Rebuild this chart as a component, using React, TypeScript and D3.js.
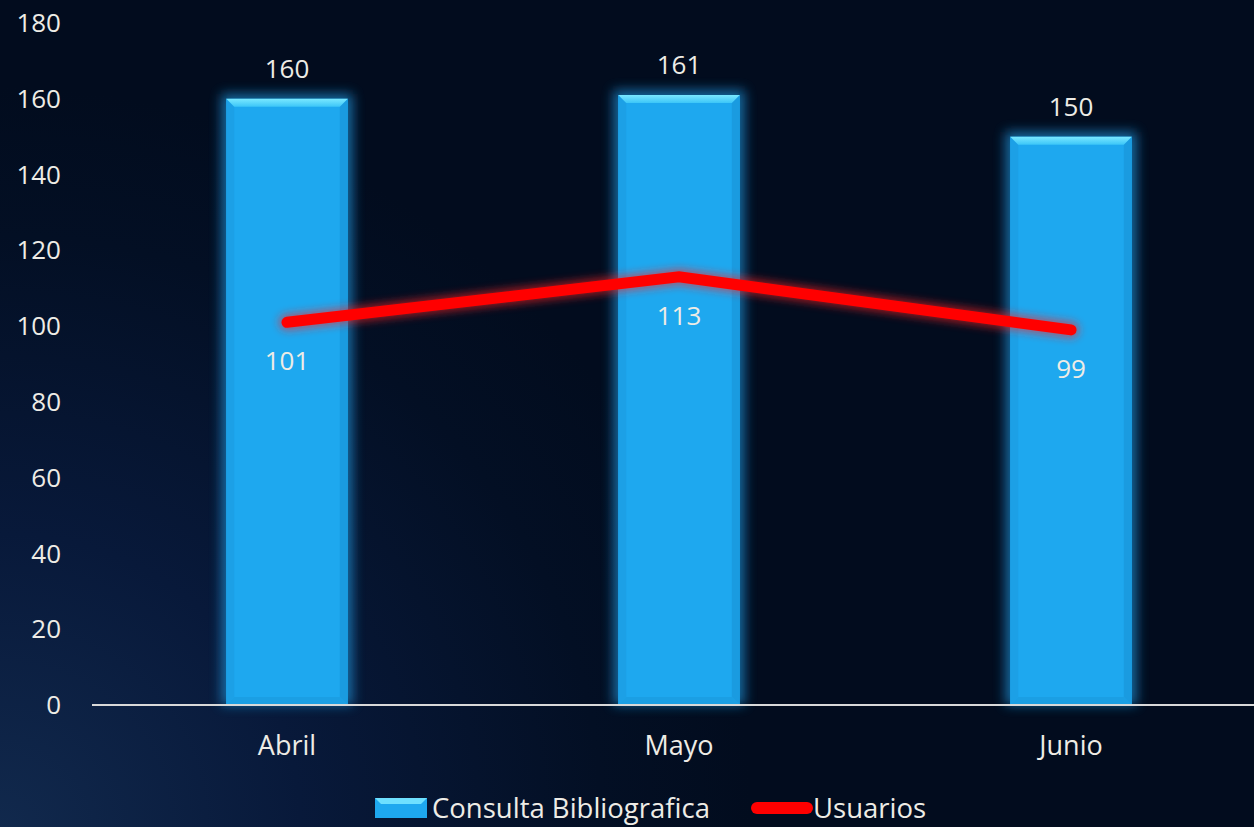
import React from "react";
import * as d3 from "d3";

const categories = ["Abril", "Mayo", "Junio"];
const consulta = [160, 161, 150];
const usuarios = [101, 113, 99];
const yTicks = [0, 20, 40, 60, 80, 100, 120, 140, 160, 180];
const seriesNames = ["Consulta Bibliografica", "Usuarios"];

const W = 1254;
const H = 827;
const FONT = "'Open Sans', 'Noto Sans', sans-serif";
const TEXT = "#eeece6";

export default function App() {
  const x = d3.scaleBand<string>().domain(categories).range([91, 1267]).paddingInner(0).paddingOuter(0);
  const y = d3.scaleLinear().domain([0, 180]).range([705, 23]);
  const barW = x.bandwidth() * 0.31;
  const line = d3
    .line<number>()
    .x((_, i) => (x(categories[i]) as number) + x.bandwidth() / 2)
    .y((d) => y(d));

  const bev = 8;

  return (
    <svg width={W} height={H} style={{ position: "absolute", left: 0, top: 0, display: "block" }}>
      <defs>
        <radialGradient id="bg" cx="0" cy="1" r="0.6" gradientTransform="scale(1,1.5) translate(0,-0.33)">
          <stop offset="0" stopColor="#11294d" />
          <stop offset="0.4" stopColor="#08193a" />
          <stop offset="0.8" stopColor="#030f24" />
          <stop offset="1" stopColor="#020c1e" />
        </radialGradient>
        <linearGradient id="topbev" x1="0" y1="0" x2="0" y2="1">
          <stop offset="0" stopColor="#7ae8ff" />
          <stop offset="1" stopColor="#3cc6f8" />
        </linearGradient>
        <filter id="glow" x="-30%" y="-10%" width="160%" height="120%">
          <feGaussianBlur stdDeviation="6" />
        </filter>
        <filter id="redglow" x="-10%" y="-50%" width="120%" height="200%">
          <feGaussianBlur stdDeviation="4" />
        </filter>
      </defs>
      <rect x={0} y={0} width={W} height={H} fill="#020c1e" />
      <rect x={0} y={0} width={W} height={H} fill="url(#bg)" />

      {/* y axis labels */}
      {yTicks.map((t) => (
        <text key={t} x={61} y={y(t)} dy="0.35em" textAnchor="end" fill={TEXT} fontSize={26} fontFamily={FONT}>
          {t}
        </text>
      ))}

      {/* bars */}
      {consulta.map((v, i) => {
        const cx = (x(categories[i]) as number) + x.bandwidth() / 2;
        const x0 = cx - barW / 2;
        const x1 = cx + barW / 2;
        const y0 = y(v);
        const y1 = y(0);
        return (
          <g key={i}>
            <rect x={x0 - 5} y={y0 - 5} width={barW + 10} height={y1 - y0 + 5} fill="#1a86c8" opacity={0.75} filter="url(#glow)" />
            <rect x={x0} y={y0} width={barW} height={y1 - y0} fill="#1ea8ef" />
            <polygon points={`${x0},${y0} ${x0 + bev},${y0 + bev} ${x0 + bev},${y1 - bev} ${x0},${y1}`} fill="#1ca0e6" />
            <polygon points={`${x1},${y0} ${x1 - bev},${y0 + bev} ${x1 - bev},${y1 - bev} ${x1},${y1}`} fill="#1a9be0" />
            <polygon points={`${x0},${y1} ${x0 + bev},${y1 - bev} ${x1 - bev},${y1 - bev} ${x1},${y1}`} fill="#1b9fe4" />
            <polygon points={`${x0},${y0} ${x1},${y0} ${x1 - bev},${y0 + bev} ${x0 + bev},${y0 + bev}`} fill="url(#topbev)" />
            <text x={cx} y={y0 - 30} dy="0.35em" textAnchor="middle" fill={TEXT} fontSize={26} fontFamily={FONT}>
              {v}
            </text>
          </g>
        );
      })}

      {/* axis line */}
      <line x1={92} x2={W} y1={y(0)} y2={y(0)} stroke="#d9d9d9" strokeWidth={2} />

      {/* x labels */}
      {categories.map((c) => (
        <text key={c} x={(x(c) as number) + x.bandwidth() / 2} y={746} dy="0.35em" textAnchor="middle" fill={TEXT} fontSize={27} fontFamily={FONT}>
          {c}
        </text>
      ))}

      {/* line */}
      <path d={line(usuarios) || ""} fill="none" stroke="#ff2020" strokeWidth={16} strokeLinecap="round" strokeLinejoin="round" opacity={0.6} filter="url(#redglow)" />
      <path d={line(usuarios) || ""} fill="none" stroke="#ff0000" strokeWidth={11} strokeLinecap="round" strokeLinejoin="miter" />
      {usuarios.map((v, i) => (
        <text key={i} x={(x(categories[i]) as number) + x.bandwidth() / 2} y={y(v) + 39} dy="0.35em" textAnchor="middle" fill={TEXT} fontSize={26} fontFamily={FONT}>
          {v}
        </text>
      ))}

      {/* legend */}
      <g>
        <rect x={375} y={798} width={52} height={20} fill="#1ea8ef" />
        <polygon points="375,798 427,798 421,804 381,804" fill="#6ee0ff" />
        <text x={432} y={808} dy="0.35em" fill={TEXT} fontSize={27.5} fontFamily={FONT}>
          {seriesNames[0]}
        </text>
        <line x1={757} x2={807} y1={808} y2={808} stroke="#ff0000" strokeWidth={12} strokeLinecap="round" />
        <text x={813} y={808} dy="0.35em" fill={TEXT} fontSize={27.5} fontFamily={FONT}>
          {seriesNames[1]}
        </text>
      </g>
    </svg>
  );
}
